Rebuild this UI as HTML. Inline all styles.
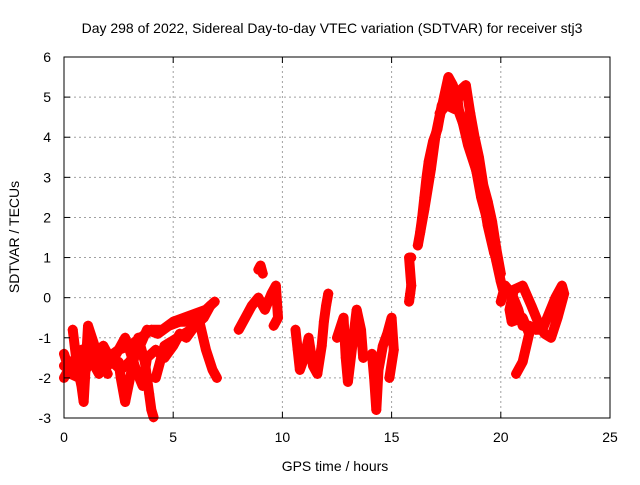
<!DOCTYPE html>
<html><head><meta charset="utf-8"><style>
html,body{margin:0;padding:0;background:#fff}
svg text{font-family:"Liberation Sans",sans-serif;font-size:14px;fill:#000}
</style></head><body>
<svg id="chart" width="640" height="480" viewBox="0 0 640 480" xmlns="http://www.w3.org/2000/svg">
<rect width="640" height="480" fill="#fff"/>
<text x="332" y="33" text-anchor="middle">Day 298 of 2022, Sidereal Day-to-day VTEC variation (SDTVAR) for receiver stj3</text>
<g id="grid"></g>
<g id="series"></g>
<rect x="64" y="57" width="546" height="361" fill="none" stroke="#000" stroke-width="1"/>
<g id="axes"></g>
<text x="335" y="471" text-anchor="middle">GPS time / hours</text>
<text transform="translate(19,237) rotate(-90)" text-anchor="middle">SDTVAR / TECUs</text>
</svg>
<script>
const xTicks=[0,5,10,15,20,25];
const yTicks=[-3,-2,-1,0,1,2,3,4,5,6];
const trackA_t=[0,0.5,1,1.5,2,2.5,3,3.5,4,4.5,5,5.5,6,6.5,6.9];
const trackA_v=[-1.7,-1.9,-1.6,-1.7,-1.5,-1.3,-1.2,-1.0,-0.8,-0.8,-0.6,-0.5,-0.4,-0.3,-0.1];
const trackB_t=[0,0.4,0.8,1.2,1.6,2,2.4,2.8,3.0,3.3,3.6,3.8,4.2,4.6,5,5.3,5.6,6,6.4,6.7];
const trackB_v=[-2.0,-1.6,-1.3,-1.5,-1.9,-1.7,-1.4,-1.0,-1.3,-1.8,-2.2,-1.5,-1.3,-1.5,-1.2,-0.9,-1.0,-0.7,-0.5,-0.2];
const trackC_t=[0.4,0.6,0.8,0.9,1.1,1.4,1.7,2.0];
const trackC_v=[-0.8,-1.7,-2.2,-2.6,-0.7,-1.2,-1.6,-1.9];
const trackD_t=[2.5,2.6,2.8,3.4,3.7,3.9,4.0,4.1];
const trackD_v=[-1.6,-2.0,-2.6,-1.0,-1.6,-2.4,-2.8,-2.98];
const trackE_t=[4.2,4.4,4.6,5.2,5.8,6.2,6.5,6.8,7.0];
const trackE_v=[-2.0,-1.6,-1.2,-1.0,-0.8,-0.6,-1.3,-1.8,-2.0];
const trackO_t=[0,0.3,0.7,1.0,1.4,1.8,2.2,2.6,3.0,3.4,3.8,4.3,4.8,5.3,5.8,6.3];
const trackO_v=[-1.4,-1.9,-2.0,-1.8,-1.4,-1.2,-1.6,-1.8,-1.6,-1.3,-0.8,-0.9,-0.7,-0.6,-0.6,-0.5];
const trackF_t=[8.0,8.3,8.6,8.9,9.2,9.5,9.7,9.8,9.6];
const trackF_v=[-0.8,-0.5,-0.2,0.0,-0.3,0.1,0.3,-0.5,-0.7];
const trackG_t=[8.9,9.0,9.1];
const trackG_v=[0.7,0.8,0.6];
const trackH_t=[10.6,10.7,10.8,11.0,11.2,11.4,11.6,11.8,11.9,12.0,12.1];
const trackH_v=[-0.8,-1.3,-1.8,-1.5,-1.0,-1.7,-1.9,-1.2,-0.6,-0.2,0.1];
const trackI_t=[12.5,12.8,12.9,13.0,13.2,13.4,13.6,13.7];
const trackI_v=[-1.0,-0.5,-1.5,-2.1,-1.2,-0.3,-0.8,-1.5];
const trackJ_t=[14.1,14.2,14.3,14.4,14.6,14.8,15.0,15.1,14.9];
const trackJ_v=[-1.4,-2.0,-2.8,-1.8,-1.2,-0.9,-0.5,-1.3,-2.0];
const trackK_t=[15.8,15.85,15.9,15.8,15.9];
const trackK_v=[-0.1,0.1,0.3,1.0,1.0];
const trackL_t=[16.3,16.4,16.5,16.6,16.7,16.9,17.1,17.2,17.4,17.6,17.8,18.0,18.1,18.3,18.5,18.7,18.9,19.1,19.3,19.6,19.8,20.0,20.1];
const trackL_v=[1.6,2.0,2.5,3.0,3.4,3.9,4.2,4.5,5.0,5.5,5.3,5.0,4.6,4.3,4.0,3.6,3.1,2.5,2.1,1.4,0.9,0.4,0.2];
const trackM_t=[17.2,17.5,17.9,18.2,18.4,18.6,18.8,19.0,19.2,19.4,19.6,19.8,20.0];
const trackM_v=[4.6,4.8,4.7,5.2,5.3,4.6,4.0,3.5,2.8,2.4,1.9,1.2,0.6];
const trackP_t=[16.2,16.5,16.8,17.0,17.3,17.6,17.9,18.2,18.5,18.8,19.1,19.4,19.7];
const trackP_v=[1.3,2.2,3.2,4.0,4.8,5.0,4.9,4.5,3.8,3.3,2.8,1.8,1.1];
const trackN_t=[20.0,20.2,20.5,20.8,21.0,21.3,21.6,21.9,22.2,22.5,22.8,22.9,22.6,22.3,22.0,21.7,21.4,21.0,20.6,20.4,20.5,21.0,21.3,21.0,20.7];
const trackN_v=[-0.1,0.3,0.1,-0.3,-0.7,-0.7,-0.8,-0.8,-0.4,0.0,0.3,0.1,-0.5,-1.0,-0.9,-0.6,-0.2,0.3,0.2,-0.3,-0.6,-0.5,-0.9,-1.6,-1.9];
const tracks=[[trackA_t,trackA_v],[trackB_t,trackB_v],[trackC_t,trackC_v],[trackD_t,trackD_v],[trackE_t,trackE_v],[trackO_t,trackO_v],[trackF_t,trackF_v],[trackG_t,trackG_v],[trackH_t,trackH_v],[trackI_t,trackI_v],[trackJ_t,trackJ_v],[trackK_t,trackK_v],[trackL_t,trackL_v],[trackM_t,trackM_v],[trackP_t,trackP_v],[trackN_t,trackN_v]];
const NS='http://www.w3.org/2000/svg';
const X0=64,X1=610,Y0=418,Y1=57;
function xs(t){return X0+(t-0)/(25-0)*(X1-X0);}
function ys(v){return Y0-(v+3)/(6+3)*(Y0-Y1);}
function mk(tag,attrs,parent){const e=document.createElementNS(NS,tag);for(const k in attrs)e.setAttribute(k,attrs[k]);parent.appendChild(e);return e;}
const grid=document.getElementById('grid'),axes=document.getElementById('axes'),series=document.getElementById('series');
xTicks.forEach(t=>{
 const x=xs(t);
 if(t>0&&t<25){const l=mk('line',{x1:x,y1:Y0,x2:x,y2:Y1,stroke:'#a0a0a0','stroke-dasharray':'2,3'},grid);
 
 }
 mk('line',{x1:x,y1:Y0,x2:x,y2:Y0-6,stroke:'#000'},axes);
 mk('line',{x1:x,y1:Y1,x2:x,y2:Y1+6,stroke:'#000'},axes);
 const tx=mk('text',{x:x,y:442,'text-anchor':'middle'},axes);tx.textContent=t;
 
 
});
yTicks.forEach(v=>{
 const y=ys(v);
 if(v>-3&&v<6){const l=mk('line',{x1:X0,y1:y,x2:X1,y2:y,stroke:'#a0a0a0','stroke-dasharray':'2,3'},grid);
 
 }
 mk('line',{x1:X0,y1:y,x2:X0+6,y2:y,stroke:'#000'},axes);
 mk('line',{x1:X1,y1:y,x2:X1-6,y2:y,stroke:'#000'},axes);
 const tx=mk('text',{x:51,y:y+5,'text-anchor':'end'},axes);tx.textContent=v;
 
 
});
tracks.forEach(([ts,vs])=>{
 const pts=ts.map((t,i)=>xs(t)+','+ys(vs[i])).join(' ');
 const pl=mk('polyline',{points:pts,fill:'none',stroke:'#ff0000','stroke-width':10,'stroke-linejoin':'round','stroke-linecap':'round'},series);
 
 
 ts.forEach((t,i)=>{
  const x=xs(t),y=ys(vs[i]);
  const p=mk('path',{d:`M${x-5},${y}H${x+5}M${x},${y-5}V${y+5}`,stroke:'#ff0000','stroke-width':1.2},series);
  
  
 });
});
</script>
</body></html>
